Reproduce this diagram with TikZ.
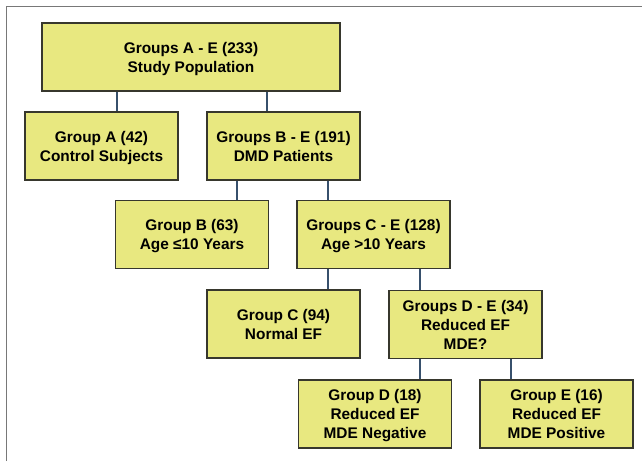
\documentclass[tikz,border=0pt]{standalone}
\usepackage{fontspec}
\setmainfont{Liberation Sans}
\definecolor{BoxColor}{RGB}{232,232,128}
\definecolor{EdgeColor}{RGB}{55,55,45}
\definecolor{LinkColor}{RGB}{55,80,108}
\definecolor{FrameColor}{RGB}{120,120,120}
\usepackage{tikz}
\usetikzlibrary{positioning, calc}
\tikzstyle{group} = [draw=EdgeColor, line width=1.3pt, fill=BoxColor, minimum width=153pt, minimum height=68pt, inner sep=0pt, align=center, text depth=0pt, execute at begin node={\rule{0pt}{19pt}}, font=\fontsize{15.4}{19}\selectfont\bfseries]
\tikzstyle{link} = [LinkColor, line width=2.8pt]
\tikzstyle{frame} = [FrameColor, line width=1pt]

\begin{document}
\begin{tikzpicture}[x=1pt, y=-1pt]
    \useasboundingbox (0,0) rectangle (642,461);
    % Outer frame (left and top only)
    \draw[frame] (6,461) -- (6,6) -- (642,6);

    % Boxes
    \node[group, minimum width=298pt] (all) at (191,57) {Groups A - E (233)\\Study Population};
    \node[group] (grpA) at (101.5,146) {Group A (42)\\Control Subjects};
    \node[group] (grpBE) at (283.5,146) {Groups B - E (191)\\DMD Patients};
    \node[group] (grpB) at (192,234.5) {Group B (63)\\Age ≤10 Years};
    \node[group] (grpCE) at (373.5,234.5) {Groups C - E (128)\\Age >10 Years};
    \node[group] (grpC) at (283.5,324) {Group C (94)\\Normal EF};
    \node[group] (grpDE) at (465.5,324.5) {Groups D - E (34)\\Reduced EF\\MDE?};
    \node[group] (grpD) at (375,414) {Group D (18)\\Reduced EF\\MDE Negative};
    \node[group] (grpE) at (556.5,414) {Group E (16)\\Reduced EF\\MDE Positive};

    % Links
    \draw[link] (all.south -| 117,0) -- (grpA.north -| 117,0);
    \draw[link] (all.south -| 267,0) -- (grpBE.north -| 267,0);
    \draw[link] (grpBE.south -| 237,0) -- (grpB.north -| 237,0);
    \draw[link] (grpBE.south -| 328,0) -- (grpCE.north -| 328,0);
    \draw[link] (grpCE.south -| 328,0) -- (grpC.north -| 328,0);
    \draw[link] (grpCE.south -| 420,0) -- (grpDE.north -| 420,0);
    \draw[link] (grpDE.south -| 420,0) -- (grpD.north -| 420,0);
    \draw[link] (grpDE.south -| 511,0) -- (grpE.north -| 511,0);
\end{tikzpicture}
\end{document}
